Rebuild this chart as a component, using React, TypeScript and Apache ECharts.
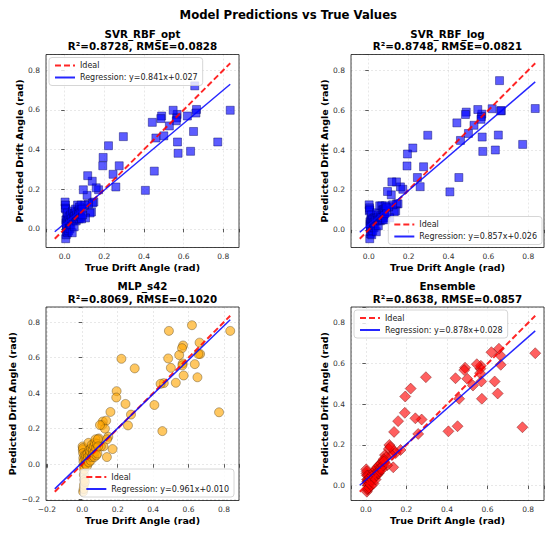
import React, { useEffect, useRef } from 'react';
import * as echarts from 'echarts';

// ---- data ----
const modelNames = ['SVR_RBF_opt', 'SVR_RBF_log', 'MLP_s42', 'Ensemble'];
const r2Values = ['0.8728', '0.8748', '0.8069', '0.8638'];
const rmseValues = ['0.0828', '0.0821', '0.1020', '0.0857'];
const regSlopes = [0.841, 0.857, 0.961, 0.878];
const regIntercepts = [0.027, 0.026, 0.010, 0.028];

const trueVals = [
  0.835, 0.772, 0.665, 0.662, 0.656, 0.650, 0.635, 0.619, 0.572, 0.569,
  0.567, 0.565, 0.563, 0.547, 0.528, 0.500, 0.489, 0.485, 0.460, 0.452,
  0.442, 0.407, 0.296, 0.275, 0.258, 0.244, 0.221, 0.194, 0.192, 0.171,
  0.159, 0.147, 0.139, 0.116, 0.113, 0.094, 0.140, 0.135, 0.128, 0.120,
  0.105, 0.100,
  0.002, 0.003, 0.004, 0.005, 0.005, 0.006, 0.007, 0.008, 0.008, 0.009,
  0.010, 0.011, 0.012, 0.013, 0.015,
  0.018, 0.020, 0.022, 0.025, 0.027, 0.030, 0.032, 0.035, 0.038, 0.040,
  0.042, 0.045, 0.048, 0.050, 0.053, 0.055, 0.058, 0.060, 0.063, 0.065,
  0.068, 0.070, 0.073, 0.075, 0.078, 0.080, 0.083, 0.085, 0.088, 0.090,
];

const predSvrOpt = [
  0.598, 0.438, 0.602, 0.584, 0.721, 0.491, 0.391, 0.569, 0.381, 0.438,
  0.577, 0.560, 0.545, 0.598, 0.519, 0.469, 0.569, 0.556, 0.458, 0.291,
  0.537, 0.194, 0.465, 0.318, 0.211, 0.275, 0.419, 0.360, 0.318, 0.197,
  0.207, 0.135, 0.240, 0.268, 0.169, 0.197, 0.130, 0.085, 0.080, 0.125,
  0.055, 0.120,
  0.135, 0.105, 0.120, 0.100, -0.050, 0.045, 0.030, -0.030, 0.020, 0.000,
  -0.015, 0.060, 0.050, 0.080, -0.020,
  0.040, -0.010, 0.060, 0.030, 0.000, 0.070, 0.020, 0.050, -0.020, 0.090,
  0.040, 0.060, 0.010, 0.080, 0.050, 0.100, 0.040, 0.070, 0.050, 0.120,
  0.060, 0.090, 0.050, 0.110, 0.080, 0.060, 0.120, 0.050, 0.100, 0.070,
];

const predSvrLog = [
  0.608, 0.428, 0.597, 0.597, 0.748, 0.475, 0.400, 0.607, 0.393, 0.465,
  0.580, 0.568, 0.554, 0.603, 0.524, 0.483, 0.590, 0.578, 0.448, 0.262,
  0.536, 0.190, 0.474, 0.316, 0.216, 0.262, 0.410, 0.380, 0.320, 0.203,
  0.215, 0.130, 0.240, 0.240, 0.175, 0.192, 0.130, 0.095, 0.090, 0.125,
  0.060, 0.115,
  0.125, 0.095, 0.110, 0.100, -0.045, 0.040, 0.030, -0.020, 0.020, 0.005,
  -0.010, 0.050, 0.055, 0.075, -0.025,
  0.050, -0.005, 0.055, 0.035, 0.010, 0.060, 0.020, 0.055, -0.010, 0.085,
  0.045, 0.060, 0.020, 0.075, 0.050, 0.120, 0.045, 0.070, 0.060, 0.120,
  0.050, 0.100, 0.060, 0.100, 0.090, 0.070, 0.120, 0.050, 0.110, 0.080,
];

const predMlp = [
  0.750, 0.292, 0.620, 0.684, 0.620, 0.489, 0.563, 0.782, 0.499, 0.668,
  0.567, 0.556, 0.653, 0.614, 0.458, 0.542, 0.750, 0.595, 0.456, 0.186,
  0.452, 0.333, 0.539, 0.279, 0.218, 0.339, 0.593, 0.411, 0.375, 0.085,
  0.294, 0.154, 0.040, 0.240, 0.220, 0.145, 0.140, 0.245, 0.200, 0.100,
  0.100, 0.220,
  0.100, 0.080, 0.090, 0.062, -0.155, 0.034, 0.015, -0.140, -0.009, -0.060,
  -0.117, -0.032, -0.088, 0.050, -0.100,
  0.030, 0.000, 0.050, 0.020, -0.010, 0.060, 0.040, 0.120, 0.010, 0.080,
  0.050, 0.070, 0.020, 0.090, 0.040, 0.110, 0.050, 0.080, 0.060, 0.100,
  0.040, 0.120, 0.070, 0.140, 0.090, 0.050, 0.115, 0.060, 0.140, 0.100,
];

const predEnsemble = [
  0.651, 0.287, 0.594, 0.641, 0.673, 0.453, 0.512, 0.656, 0.427, 0.512,
  0.589, 0.575, 0.553, 0.597, 0.492, 0.525, 0.580, 0.568, 0.427, 0.292,
  0.528, 0.267, 0.533, 0.325, 0.254, 0.331, 0.477, 0.438, 0.358, 0.175,
  0.317, 0.160, 0.264, 0.200, 0.180, 0.150, 0.170, 0.090, 0.150, 0.190,
  0.100, 0.140,
  0.080, 0.060, 0.070, 0.050, -0.030, 0.030, 0.020, -0.020, 0.010, 0.000,
  -0.015, 0.030, 0.020, 0.050, -0.010,
  0.030, 0.010, 0.040, 0.020, 0.000, 0.050, 0.030, 0.060, 0.010, 0.070,
  0.040, 0.060, 0.030, 0.080, 0.050, 0.090, 0.060, 0.070, 0.060, 0.100,
  0.070, 0.090, 0.080, 0.110, 0.090, 0.080, 0.120, 0.100, 0.130, 0.120,
];

const predictions = [predSvrOpt, predSvrLog, predMlp, predEnsemble];

// ---- layout & style ----
const FONT = 'DejaVu Sans';
const panels = [
  { left: 46, top: 54.5, width: 193, height: 193 },
  { left: 351, top: 54.5, width: 193, height: 193 },
  { left: 46, top: 307, width: 193, height: 193.5 },
  { left: 351, top: 307, width: 193, height: 193.5 },
];
const legendPos: any[] = [
  { left: 49, top: 57.5 },
  { right: 8, bottom: 289.5 },
  { right: 316, bottom: 37 },
  { left: 354, top: 310 },
];
const markerStyles = [
  { symbol: 'rect', size: 8, color: 'rgba(0,0,255,0.8)', border: 'rgba(0,0,100,0.9)' },
  { symbol: 'rect', size: 8, color: 'rgba(0,0,255,0.8)', border: 'rgba(0,0,100,0.9)' },
  { symbol: 'circle', size: 9, color: 'rgba(255,165,0,0.78)', border: 'rgba(80,60,20,0.85)' },
  { symbol: 'diamond', size: 11, color: 'rgba(255,0,0,0.78)', border: 'rgba(100,0,0,0.85)' },
];

const tickFmt = (v: number) => {
  const k = v / 0.2;
  if (Math.abs(k - Math.round(k)) > 1e-6) return '';
  const r = Math.round(k) * 0.2;
  const s = Math.abs(r).toFixed(1);
  return r < -1e-9 ? '\u2212' + s : s;
};

export default function App() {
  const ref = useRef<HTMLDivElement>(null);
  useEffect(() => {
    const chart = echarts.init(ref.current!, null, { renderer: 'svg' });
    const grids: any[] = [];
    const xAxes: any[] = [];
    const yAxes: any[] = [];
    const series: any[] = [];
    const legends: any[] = [];
    const titles: any[] = [
      {
        text: 'Model Predictions vs True Values',
        left: 288.3,
        top: 8.5,
        textAlign: 'center',
        padding: 0,
        textStyle: { fontFamily: FONT, fontSize: 11.7, fontWeight: 'bold', color: '#000' },
      },
    ];

    modelNames.forEach((name, i) => {
      const preds = predictions[i];
      const lo = Math.min(...trueVals, ...preds);
      const hi = Math.max(...trueVals, ...preds);
      const pad = 0.05 * (hi - lo);
      const p = panels[i];
      const regName = `Regression: y=${regSlopes[i].toFixed(3)}x+${regIntercepts[i].toFixed(3)}`;

      grids.push({
        ...p,
        show: true,
        borderColor: '#444',
        borderWidth: 1,
        backgroundColor: '#fff',
        containLabel: false,
      });

      const axisCommon = {
        gridIndex: i,
        type: 'value',
        min: lo - pad,
        max: hi + pad,
        splitNumber: 5,
        nameLocation: 'middle',
        nameTextStyle: { fontFamily: FONT, fontSize: 9.5, fontWeight: 'bold', color: '#000' },
        axisLine: { show: false },
        axisTick: { show: true, length: 3.5, lineStyle: { color: '#333', width: 0.8 } },
        axisLabel: { fontFamily: FONT, fontSize: 7.5, color: '#333', formatter: tickFmt },
        splitLine: { show: true, lineStyle: { type: [2, 2], color: 'rgba(0,0,0,0.13)', width: 0.7 } },
      };
      xAxes.push({
        ...axisCommon,
        name: 'True Drift Angle (rad)',
        nameGap: 15,
        axisLabel: { ...axisCommon.axisLabel, margin: 5 },
      });
      yAxes.push({
        ...axisCommon,
        name: 'Predicted Drift Angle (rad)',
        nameGap: 21,
        axisLabel: { ...axisCommon.axisLabel, margin: 6 },
      });

      const ms = markerStyles[i];
      series.push({
        name,
        type: 'scatter',
        xAxisIndex: i,
        yAxisIndex: i,
        symbol: ms.symbol,
        symbolSize: ms.size,
        data: trueVals.map((t, k) => [t, preds[k]]),
        itemStyle: { color: ms.color, borderColor: ms.border, borderWidth: 0.6 },
        z: 2,
      });
      series.push({
        name: 'Ideal',
        type: 'line',
        xAxisIndex: i,
        yAxisIndex: i,
        symbol: 'none',
        data: [[lo, lo], [hi, hi]],
        lineStyle: { color: 'rgba(255,0,0,0.85)', width: 2, type: [6, 3] },
        itemStyle: { color: 'rgba(255,0,0,0.85)', opacity: 0 },
        z: 3,
      });
      series.push({
        name: regName,
        type: 'line',
        xAxisIndex: i,
        yAxisIndex: i,
        symbol: 'none',
        data: [
          [lo, regSlopes[i] * lo + regIntercepts[i]],
          [hi, regSlopes[i] * hi + regIntercepts[i]],
        ],
        lineStyle: { color: 'rgba(0,0,255,0.85)', width: 1.5 },
        itemStyle: { color: 'rgba(0,0,255,0.85)', opacity: 0 },
        z: 4,
      });

      legends.push({
        ...legendPos[i],
        data: ['Ideal', regName],
        orient: 'vertical',
        itemWidth: 20,
        itemHeight: 8,
        itemGap: 4,
        padding: [4, 5, 4, 5],
        backgroundColor: 'rgba(255,255,255,0.8)',
        borderColor: '#ccc',
        borderWidth: 0.8,
        borderRadius: 3,
        selectedMode: false,
        itemStyle: { opacity: 0, borderWidth: 0 },
        textStyle: { fontFamily: FONT, fontSize: 8, color: '#222' },
      });

      titles.push({
        text: `${name}\nR\u00b2=${r2Values[i]}, RMSE=${rmseValues[i]}`,
        left: p.left + p.width / 2,
        top: i < 2 ? 27.5 : 280,
        textAlign: 'center',
        padding: 0,
        textStyle: {
          fontFamily: FONT,
          fontSize: 10.3,
          fontWeight: 'bold',
          color: '#000',
          lineHeight: 12.5,
        },
      });
    });

    chart.setOption({
      animation: false,
      backgroundColor: '#fff',
      textStyle: { fontFamily: FONT },
      title: titles,
      grid: grids,
      xAxis: xAxes,
      yAxis: yAxes,
      legend: legends,
      series,
    });
    return () => chart.dispose();
  }, []);
  return (
    <div
      ref={ref}
      style={{ position: 'absolute', left: 0, top: 0, width: 550, height: 534 }}
    />
  );
}
